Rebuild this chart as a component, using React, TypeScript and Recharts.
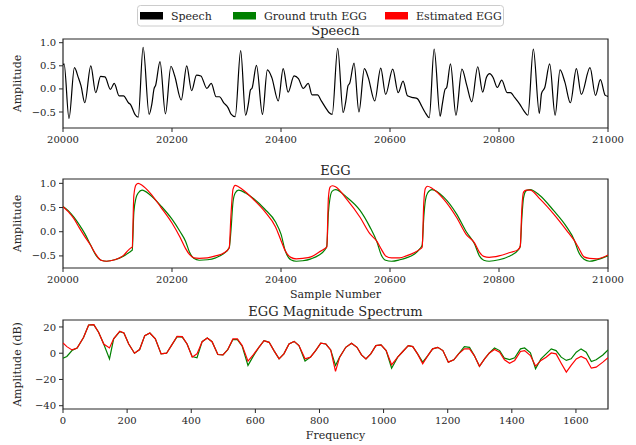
import { LineChart, Line, XAxis, YAxis, ReferenceArea } from 'recharts';

// ── Data ──────────────────────────────────────────────────────────────────────

const speechSamples = [
    20000, 20002, 20011, 20021, 20028, 20033, 20040, 20051, 20060, 20069, 20077, 20087, 20094,
    20103, 20111, 20120, 20124, 20132, 20138, 20147, 20158, 20163, 20167, 20170, 20178, 20188,
    20198, 20205, 20217, 20227, 20236, 20245, 20253, 20264, 20272, 20281, 20287, 20295, 20303,
    20308, 20316, 20326, 20335, 20340, 20344, 20347, 20355, 20366, 20375, 20383, 20395, 20404,
    20413, 20424, 20432, 20441, 20450, 20457, 20467, 20474, 20482, 20488, 20494, 20504, 20514,
    20519, 20523, 20526, 20534, 20543, 20553, 20560, 20572, 20583, 20592, 20605, 20615, 20624,
    20632, 20643, 20650, 20658, 20664, 20672, 20681, 20692, 20696, 20701, 20704, 20711, 20721,
    20732, 20741, 20750, 20761, 20770, 20777, 20783, 20789, 20797, 20805, 20815, 20821, 20829,
    20838, 20846, 20853, 20863, 20874, 20878, 20884, 20893, 20903, 20912, 20921, 20931, 20942,
    20951, 20967, 20977, 20986, 20995, 21000,
];
const speechAmp = [
    0.52, 0.54, -0.64, 0.46, 0.25, 0.07, -0.30, 0.50, -0.08, 0.27, 0.26, -0.01, 0.12,
    -0.15, -0.15, -0.30, -0.34, -0.55, -0.61, 0.90, -0.55, -0.33, 0.0, 0.08, 0.59, -0.54,
    0.49, 0.28, -0.24, 0.50, -0.04, 0.30, 0.28, 0.01, 0.12, -0.17, -0.17, -0.30, -0.41,
    -0.54, -0.60, 0.83, -0.57, -0.33, -0.02, 0.02, 0.51, -0.55, 0.41, 0.25, -0.26, 0.44,
    -0.07, 0.28, 0.22, 0.01, 0.12, -0.13, -0.13, -0.26, -0.41, -0.51, -0.55, 0.88, -0.51,
    -0.26, 0.07, 0.12, 0.56, -0.50, 0.44, 0.25, -0.26, 0.45, -0.12, 0.43, -0.08, 0.17,
    -0.15, -0.19, -0.21, -0.37, -0.50, -0.62, 0.86, -0.59, -0.33, -0.01, 0.03, 0.54, -0.57,
    0.43, 0.07, -0.28, 0.48, -0.07, 0.25, 0.33, 0.25, 0.03, 0.19, -0.08, -0.08, -0.19,
    -0.33, -0.48, -0.57, 0.86, -0.53, -0.10, 0.03, 0.54, -0.57, 0.41, 0.14, -0.30, 0.44,
    -0.12, 0.46, -0.14, 0.20, -0.14, -0.16,
];

const eggSamples = [
    20000, 20010, 20020, 20030, 20040, 20050, 20060, 20070, 20080, 20095, 20110, 20120, 20125,
    20127, 20130, 20134, 20138, 20145, 20160, 20180, 20200, 20215, 20225, 20232, 20240, 20250,
    20265, 20280, 20295, 20305, 20308, 20312, 20316, 20322, 20335, 20350, 20370, 20390, 20400,
    20408, 20418, 20428, 20440, 20455, 20470, 20480, 20484, 20487, 20490, 20494, 20500, 20520,
    20545, 20563, 20576, 20584, 20592, 20603, 20618, 20630, 20645, 20655, 20659, 20662, 20665,
    20669, 20677, 20698, 20722, 20740, 20755, 20764, 20772, 20782, 20800, 20820, 20835, 20839,
    20842, 20845, 20850, 20857, 20875, 20900, 20924, 20938, 20946, 20956, 20966, 20980, 21000,
];
const eggTruth = [
    0.52, 0.43, 0.30, 0.14, -0.04, -0.26, -0.48, -0.59, -0.61, -0.58, -0.51, -0.44, -0.40,
    -0.38, 0.40, 0.70, 0.80, 0.86, 0.76, 0.53, 0.26, 0.0, -0.20, -0.42, -0.55, -0.59,
    -0.58, -0.54, -0.45, -0.33, 0.0, 0.62, 0.80, 0.86, 0.80, 0.68, 0.47, 0.20, -0.05,
    -0.40, -0.58, -0.61, -0.60, -0.56, -0.48, -0.38, -0.30, 0.40, 0.70, 0.84, 0.87, 0.72,
    0.44, 0.10, -0.21, -0.48, -0.59, -0.61, -0.58, -0.54, -0.46, -0.35, -0.28, 0.30, 0.65,
    0.80, 0.87, 0.72, 0.37, 0.0, -0.25, -0.50, -0.59, -0.61, -0.58, -0.50, -0.38, -0.30,
    0.30, 0.70, 0.85, 0.87, 0.75, 0.44, 0.10, -0.17, -0.42, -0.57, -0.61, -0.58, -0.50,
];
const eggEstimate = [
    0.52, 0.41, 0.27, 0.08, -0.10, -0.27, -0.46, -0.59, -0.61, -0.58, -0.50, -0.38, -0.33,
    -0.32, 0.75, 0.97, 1.0, 0.96, 0.80, 0.50, 0.18, -0.12, -0.35, -0.47, -0.54, -0.55,
    -0.54, -0.50, -0.44, -0.33, 0.30, 0.88, 0.96, 0.93, 0.82, 0.66, 0.42, 0.10, -0.18,
    -0.40, -0.53, -0.56, -0.55, -0.52, -0.42, -0.35, -0.32, 0.70, 0.92, 0.95, 0.93, 0.68,
    0.30, -0.04, -0.20, -0.36, -0.50, -0.54, -0.54, -0.50, -0.43, -0.36, -0.32, 0.60, 0.90,
    0.94, 0.90, 0.68, 0.30, -0.06, -0.23, -0.42, -0.51, -0.53, -0.50, -0.43, -0.37, -0.30,
    0.50, 0.82, 0.86, 0.86, 0.68, 0.37, 0.03, -0.18, -0.33, -0.52, -0.55, -0.56, -0.48,
];

const specFreq = [
    0, 12, 28, 44, 64, 80, 96, 111, 127, 145, 158, 177, 190, 205, 223, 239, 255, 271, 288,
    306, 323, 338, 356, 372, 387, 403, 418, 434, 450, 465, 483, 499, 514, 530, 544, 559, 577,
    594, 611, 627, 643, 658, 674, 689, 705, 721, 736, 755, 772, 788, 804, 820, 835, 850, 863,
    882, 900, 917, 931, 945, 960, 976, 992, 1008, 1025, 1044, 1060, 1077, 1091, 1106, 1122,
    1138, 1153, 1169, 1185, 1202, 1219, 1234, 1252, 1268, 1283, 1299, 1315, 1330, 1346, 1362,
    1377, 1393, 1409, 1427, 1440, 1458, 1474, 1491, 1507, 1523, 1538, 1554, 1570, 1585, 1601,
    1616, 1632, 1648, 1663, 1684, 1700,
];
const specTruth = [
    -3.8, -2.5, 2.0, 4.0, 12, 21.5, 21.7, 16, 7, -4.3, 11, 16.4, 15.4, 7, 0, 2.8, 13.4, 15.4, 10.9,
    -0.5, 0, 5.8, 12.6, 12.3, 7, -2.5, -3.5, 8.8, 11.6, 8.8, -1, -1.3, 2.8, 10.4, 10.4, 5.3, -9.3,
    -2, 4.5, 9.6, 8.3, 2, -4.3, -0.5, 7, 9, 5.8, -6, -3, 2, 7.6, 7, 2.5, -9.3, -3,
    4.5, 7.6, 4.5, -1.3, -4.3, -0.5, 5.8, 6.3, 2, -11.4, -3, 1.3, 5.8, 5, -0.5, -6.8,
    -1.8, 3.3, 4.5, 2, -6.8, -5, -0.5, 5, 4.5, -1.8, -10, -4.3, 0.2, 4, 2,
    -3.8, -4.8, -3.5, 3.3, 4, 0.3, -11.9, -4.3, -0.5, 3.3, 2, -3, -5.5, -4.3, 0.8,
    3.3, 0.8, -6.3, -5, -1.3, 2.5,
];
const specEstimate = [
    7.8, 5.0, 2.5, 4.0, 12, 21.5, 21.7, 16, 7, 4, 11, 16.8, 15.4, 7, 0, 2.8, 13.4, 15.4, 10.9,
    -0.5, 0, 5.8, 12.9, 12.6, 7, -3, -0.5, 8.8, 11.6, 8.8, -1, -1.3, 2.8, 10.9, 10.9, 5.8, -6,
    -1, 4.5, 9.6, 8.3, 2, -4.3, -0.5, 7, 9, 5.8, -4.3, -3, 2, 7.6, 7, 2.5, -13.9, -3,
    4.5, 7.6, 4.5, -1.3, -4.3, -0.5, 5.8, 6.3, 2, -8.8, -3, 1.3, 5.8, 5, -0.5, -8,
    -1.8, 3.3, 4.5, 2, -6.8, -5, -0.5, 3.3, 3.3, -1.8, -10, -4.3, 0.2, 2.8, 0.8,
    -5, -7.6, -5.5, 1.3, 2, -1.8, -9.8, -5.5, -3, 0.2, -0.5, -7.6, -14.4, -9.3, -4.3,
    -2.5, -4.3, -11.4, -10.6, -6.8, -3.5,
];

const sampleTicks = [20000, 20200, 20400, 20600, 20800, 21000];
const ampTicks = [-0.5, 0, 0.5, 1.0];
const freqTicks = [0, 200, 400, 600, 800, 1000, 1200, 1400, 1600];
const dbTicks = [-40, -20, 0, 20];

const legendNames = ['Speech', 'Ground truth EGG', 'Estimated EGG'];
const legendColors = ['#000000', '#008000', '#ff0000'];

// ── Style ─────────────────────────────────────────────────────────────────────

const FONT = '"DejaVu Serif", serif';
const INK = '#262626';
const GREEN = '#008000';
const RED = '#ff0000';

const fmtAmp = (v: number) => v.toFixed(1).replace('-', '\u2212');
const fmtDb = (v: number) => String(v).replace('-', '\u2212');

// ── Panel ─────────────────────────────────────────────────────────────────────

interface PanelProps {
    top: number;
    data: any[];
    series: { key: string; color: string; type: 'monotone' | 'linear' }[];
    xDomain: [number, number];
    xTicks: number[];
    yDomain: [number, number];
    yTicks: number[];
    yFormat: (v: number) => string;
}

function Panel({ top, data, series, xDomain, xTicks, yDomain, yTicks, yFormat }: PanelProps) {
    const tick = { fill: INK, fontSize: 10, fontFamily: FONT };
    return (
        <div style={{ position: 'absolute', left: 0, top }}>
            <LineChart width={636} height={160} data={data} margin={{ top: 39, right: 28, bottom: 2, left: 0 }}>
                <XAxis
                    dataKey="x"
                    type="number"
                    domain={xDomain}
                    ticks={xTicks}
                    allowDataOverflow
                    axisLine={false}
                    tickLine={{ stroke: INK }}
                    tickSize={4}
                    tickMargin={4}
                    tick={tick}
                    height={30}
                />
                <YAxis
                    type="number"
                    domain={yDomain}
                    ticks={yTicks}
                    allowDataOverflow
                    axisLine={false}
                    tickLine={{ stroke: INK }}
                    tickSize={4}
                    tickMargin={3}
                    tick={tick}
                    tickFormatter={yFormat}
                    width={63}
                />
                {series.map(s => (
                    <Line
                        key={s.key}
                        dataKey={s.key}
                        type={s.type}
                        stroke={s.color}
                        strokeWidth={1.2}
                        dot={false}
                        isAnimationActive={false}
                    />
                ))}
                <ReferenceArea
                    x1={xDomain[0]} x2={xDomain[1]} y1={yDomain[0]} y2={yDomain[1]}
                    fill="none" stroke={INK} strokeWidth={1.2} fillOpacity={0}
                    ifOverflow="visible"
                />
            </LineChart>
        </div>
    );
}

// ── App ───────────────────────────────────────────────────────────────────────

export default function App() {
    const speechData = speechSamples.map((x, i) => ({ x, speech: speechAmp[i] }));
    const eggData = eggSamples.map((x, i) => ({ x, truth: eggTruth[i], est: eggEstimate[i] }));
    const specData = specFreq.map((x, i) => ({ x, truth: specTruth[i], est: specEstimate[i] }));

    const legendX = [140, 233, 385];

    return (
        <div style={{ position: 'absolute', left: 0, top: 0, width: 636, height: 445, background: '#fff', fontFamily: FONT }}>
            <Panel
                top={0}
                data={speechData}
                series={[{ key: 'speech', color: '#000000', type: 'monotone' }]}
                xDomain={[20000, 21000]} xTicks={sampleTicks}
                yDomain={[-0.846, 1.08]} yTicks={ampTicks} yFormat={fmtAmp}
            />
            <Panel
                top={140}
                data={eggData}
                series={[
                    { key: 'truth', color: GREEN, type: 'monotone' },
                    { key: 'est', color: RED, type: 'monotone' },
                ]}
                xDomain={[20000, 21000]} xTicks={sampleTicks}
                yDomain={[-0.75, 1.09]} yTicks={ampTicks} yFormat={fmtAmp}
            />
            <Panel
                top={281}
                data={specData}
                series={[
                    { key: 'truth', color: GREEN, type: 'linear' },
                    { key: 'est', color: RED, type: 'linear' },
                ]}
                xDomain={[0, 1700]} xTicks={freqTicks}
                yDomain={[-42.5, 25.3]} yTicks={dbTicks} yFormat={fmtDb}
            />

            <svg width={636} height={445} style={{ position: 'absolute', left: 0, top: 0, pointerEvents: 'none' }}>
                <g fontFamily={FONT} fill={INK}>
                    <text x={335.5} y={35} fontSize={13} textAnchor="middle">Speech</text>
                    <text x={335.5} y={175} fontSize={13} textAnchor="middle">EGG</text>
                    <text x={335.5} y={316} fontSize={13} textAnchor="middle">EGG Magnitude Spectrum</text>

                    <text x={335.5} y={298} fontSize={11} textAnchor="middle">Sample Number</text>
                    <text x={335.5} y={439} fontSize={11} textAnchor="middle">Frequency</text>

                    <text transform="translate(21,83.5) rotate(-90)" fontSize={11} textAnchor="middle">Amplitude</text>
                    <text transform="translate(21,223.5) rotate(-90)" fontSize={11} textAnchor="middle">Amplitude</text>
                    <text transform="translate(21,364.5) rotate(-90)" fontSize={11} textAnchor="middle">Amplitude (dB)</text>
                </g>

                <rect x={137.5} y={5.5} width={366} height={20.5} rx={3} fill="#fff" stroke="#cccccc" strokeWidth={1} />
                {legendNames.map((name, i) => (
                    <g key={name}>
                        <rect x={legendX[i]} y={12} width={23} height={7.5} fill={legendColors[i]} />
                        <text x={legendX[i] + 31} y={19.5} fontSize={11} fontFamily={FONT} fill={INK}>{name}</text>
                    </g>
                ))}
            </svg>
        </div>
    );
}
